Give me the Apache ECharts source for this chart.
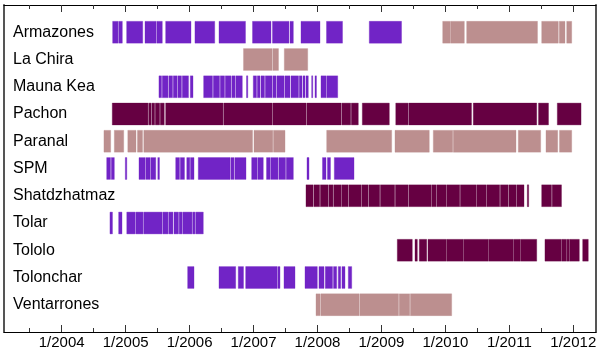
<!DOCTYPE html>
<html>
<head>
<meta charset="utf-8">
<script src="https://cdn.jsdelivr.net/npm/echarts@6/dist/echarts.min.js"></script>
<style>html,body{margin:0;padding:0;background:#fff}#c{width:600px;height:350px}</style>
</head>
<body>
<div id="c"></div>
<script>
// Sites (top to bottom)
const SITES = ['Armazones','La Chira','Mauna Kea','Pachon','Paranal','SPM','Shatdzhatmaz','Tolar','Tololo','Tolonchar','Ventarrones'];
// Axis range and ticks (decimal years)
const X_MIN = 2003.098, X_MAX = 2012.355;
const YEAR_TICKS = [2004,2005,2006,2007,2008,2009,2010,2011,2012];
const HALF_TICKS = [2003.5,2004.5,2005.5,2006.5,2007.5,2008.5,2009.5,2010.5,2011.5];
const COLOR = { purple: '#7124c6', maroon: '#660042', pink: '#bc8f8f' };

// Observation spans [start, end] in decimal years
const ARMAZONES_PURPLE = [[2004.797,2004.880],[2004.891,2004.948],[2005.016,2005.267],[2005.303,2005.479],[2005.490,2005.573],[2005.626,2006.022],[2006.084,2006.393],[2006.460,2006.874],[2006.984,2007.273],[2007.296,2007.554],[2007.570,2007.622],[2007.742,2008.039],[2008.141,2008.391],[2008.810,2009.314]];
const ARMAZONES_PINK = [[2009.958,2010.080],[2010.088,2010.296],[2010.333,2011.440],[2011.506,2011.765],[2011.781,2011.870],[2011.897,2011.975]];
const LACHIRA_PINK = [[2006.843,2007.293],[2007.304,2007.390],[2007.481,2007.847]];
const MAUNAKEA_PURPLE = [[2005.521,2005.561],[2005.573,2005.662],[2005.675,2005.733],[2005.745,2005.803],[2005.815,2005.873],[2005.886,2005.983],[2006.011,2006.053],[2006.220,2006.358],[2006.371,2006.468],[2006.480,2006.546],[2006.558,2006.647],[2006.660,2006.710],[2006.722,2006.824],[2006.890,2006.910],[2006.996,2007.046],[2007.059,2007.101],[2007.116,2007.171],[2007.184,2007.289],[2007.301,2007.351],[2007.364,2007.476],[2007.489,2007.570],[2007.586,2007.703],[2007.715,2007.758],[2007.773,2007.805],[2007.820,2007.856],[2007.909,2007.926],[2007.961,2007.984],[2008.055,2008.138],[2008.149,2008.316]];
const PACHON_MAROON = [[2004.791,2005.349],[2005.360,2005.401],[2005.412,2005.454],[2005.464,2005.532],[2005.542,2005.604],[2005.626,2006.522],[2006.533,2007.289],[2007.299,2007.825],[2007.836,2008.372],[2008.383,2008.519],[2008.529,2008.638],[2008.701,2009.123],[2009.224,2009.415],[2009.426,2010.408],[2010.436,2011.428],[2011.456,2011.612],[2011.750,2012.121]];
const PARANAL_PINK = [[2004.661,2004.766],[2004.823,2004.970],[2005.034,2005.162],[2005.185,2005.264],[2005.284,2006.984],[2007.007,2007.301],[2007.312,2007.492],[2008.144,2009.160],[2009.212,2009.748],[2009.811,2010.114],[2010.124,2011.104],[2011.140,2011.490],[2011.573,2011.756],[2011.784,2011.975]];
const SPM_PURPLE = [[2004.704,2004.763],[2004.776,2004.823],[2004.995,2005.018],[2005.209,2005.303],[2005.314,2005.381],[2005.392,2005.471],[2005.503,2005.529],[2005.783,2005.842],[2005.855,2005.920],[2005.956,2006.003],[2006.014,2006.069],[2006.136,2006.632],[2006.644,2006.694],[2006.707,2006.882],[2006.971,2007.054],[2007.065,2007.152],[2007.203,2007.257],[2007.268,2007.382],[2007.395,2007.500],[2007.512,2007.622],[2007.836,2007.867],[2008.078,2008.133],[2008.156,2008.203],[2008.263,2008.571]];
const SHATDZHATMAZ_MAROON = [[2007.820,2007.930],[2007.942,2008.034],[2008.045,2008.164],[2008.175,2008.242],[2008.253,2008.374],[2008.383,2008.477],[2008.488,2008.686],[2008.696,2008.790],[2008.801,2008.973],[2008.984,2009.207],[2009.218,2009.415],[2009.426,2009.781],[2009.790,2009.859],[2009.869,2010.016],[2010.025,2010.224],[2010.234,2010.485],[2010.494,2010.641],[2010.651,2010.849],[2010.860,2010.979],[2010.990,2011.110],[2011.120,2011.229],[2011.281,2011.302],[2011.506,2011.659],[2011.670,2011.815]];
const TOLAR_PURPLE = [[2004.755,2004.794],[2004.891,2004.943],[2005.018,2005.146],[2005.157,2005.271],[2005.282,2005.573],[2005.584,2005.662],[2005.673,2005.740],[2005.756,2005.826],[2005.837,2005.881],[2005.892,2006.037],[2006.048,2006.084],[2006.095,2006.214]];
const TOLOLO_MAROON = [[2009.248,2009.482],[2009.525,2009.561],[2009.592,2009.708],[2009.728,2010.017],[2010.025,2010.275],[2010.283,2010.666],[2010.674,2011.057],[2011.065,2011.167],[2011.174,2011.428],[2011.557,2011.815],[2011.823,2011.894],[2011.902,2011.941],[2011.948,2012.094],[2012.147,2012.234]];
const TOLONCHAR_PURPLE = [[2005.970,2006.069],[2006.460,2006.721],[2006.761,2006.843],[2006.877,2007.367],[2007.378,2007.414],[2007.476,2007.648],[2007.805,2007.997],[2008.023,2008.102],[2008.122,2008.235],[2008.250,2008.300],[2008.325,2008.363],[2008.383,2008.430],[2008.482,2008.535]];
const VENTARRONES_PINK = [[2007.977,2008.044],[2008.055,2008.649],[2008.660,2009.267],[2009.278,2009.442],[2009.453,2010.098]];

const GROUPS = [
  ['Armazones','purple',ARMAZONES_PURPLE],
  ['Armazones','pink',ARMAZONES_PINK],
  ['La Chira','pink',LACHIRA_PINK],
  ['Mauna Kea','purple',MAUNAKEA_PURPLE],
  ['Pachon','maroon',PACHON_MAROON],
  ['Paranal','pink',PARANAL_PINK],
  ['SPM','purple',SPM_PURPLE],
  ['Shatdzhatmaz','maroon',SHATDZHATMAZ_MAROON],
  ['Tolar','purple',TOLAR_PURPLE],
  ['Tololo','maroon',TOLOLO_MAROON],
  ['Tolonchar','purple',TOLONCHAR_PURPLE],
  ['Ventarrones','pink',VENTARRONES_PINK]
];

const FONT = 'Liberation Sans, Arial, Helvetica, sans-serif';
const series = ['purple','maroon','pink'].map(function (ck) {
  const data = [];
  GROUPS.forEach(function (g) {
    if (g[1] !== ck) return;
    const row = SITES.indexOf(g[0]) + 1;
    g[2].forEach(function (s) { data.push([s[0], s[1], row]); });
  });
  return {
    type: 'custom',
    name: ck,
    xAxisIndex: 0,
    yAxisIndex: 0,
    encode: { x: [0, 1], y: 2 },
    silent: true,
    animation: false,
    renderItem: function (params, api) {
      const a = api.coord([api.value(0), api.value(2)]);
      const b = api.coord([api.value(1), api.value(2)]);
      const h = api.size([0, 1])[1] * 0.8;
      return {
        type: 'rect',
        shape: { x: a[0], y: a[1] - h / 2, width: Math.max(b[0] - a[0], 0.8), height: h },
        style: { fill: COLOR[ck], stroke: COLOR[ck], lineWidth: 0.35 }
      };
    },
    data: data
  };
});

function xAxis(pos, ticks, len, labels, line) {
  return {
    type: 'value', position: pos, min: X_MIN, max: X_MAX,
    axisLine: { show: line, onZero: false, lineStyle: { color: '#000', width: 1.2 } },
    axisTick: { show: true, inside: true, length: len, customValues: ticks, lineStyle: { color: '#333', width: 1 } },
    axisLabel: labels ? { show: true, customValues: ticks, formatter: function (v) { return '1/' + Math.round(v); }, fontSize: 15, color: '#000', fontFamily: FONT, margin: 3 } : { show: false },
    splitLine: { show: false }
  };
}

const chart = echarts.init(document.getElementById('c'), null, { renderer: 'canvas' });
chart.setOption({
  animation: false,
  backgroundColor: '#fff',
  grid: { left: 4, right: 4, top: 5, bottom: 16.5, containLabel: false },
  xAxis: [
    xAxis('bottom', YEAR_TICKS, 7, true, true),
    xAxis('bottom', HALF_TICKS, 4, false, false),
    xAxis('top', YEAR_TICKS, 7, false, true),
    xAxis('top', HALF_TICKS, 4, false, false)
  ],
  yAxis: [
    {
      type: 'value', position: 'left', min: 0, max: 12, interval: 1, inverse: true,
      axisLine: { show: true, lineStyle: { color: '#555', width: 2 } },
      axisTick: { show: false },
      splitLine: { show: false },
      axisLabel: {
        inside: true, margin: 9, fontSize: 16, color: '#000', fontFamily: FONT,
        formatter: function (v) { return SITES[v - 1] || ''; }
      }
    },
    {
      type: 'value', position: 'right', min: 0, max: 12, interval: 1, inverse: true,
      axisLine: { show: true, lineStyle: { color: '#555', width: 2 } },
      axisTick: { show: false }, splitLine: { show: false }, axisLabel: { show: false }
    }
  ],
  series: series
});
</script>
</body>
</html>
